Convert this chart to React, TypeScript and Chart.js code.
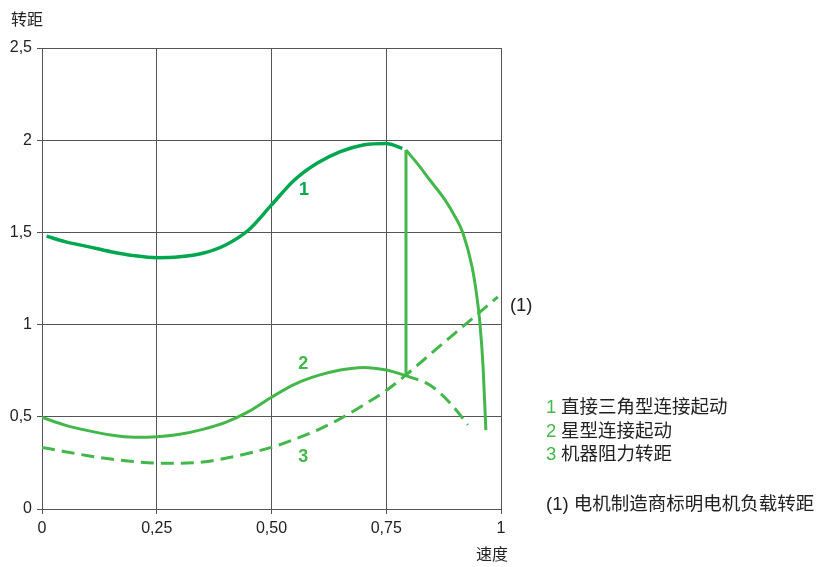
import React, { useEffect, useRef } from "react";
import { Chart, registerables } from "chart.js";

Chart.register(...registerables);

// ---- data ----
const xTickValues = [0, 0.25, 0.5, 0.75, 1];
const xTickLabels = ["0", "0,25", "0,50", "0,75", "1"];
const yTickValues = [0, 0.5, 1, 1.5, 2, 2.5];
const yTickLabels = ["0", "0,5", "1", "1,5", "2", "2,5"];

// curve 1: direct delta start (rising part)
const directSpeed = [0.01, 0.05, 0.1, 0.15, 0.2, 0.25, 0.3, 0.35, 0.4, 0.45, 0.5, 0.55, 0.6, 0.65, 0.7, 0.75, 0.785];
const directTorque = [1.48, 1.45, 1.423, 1.395, 1.374, 1.363, 1.368, 1.387, 1.432, 1.513, 1.649, 1.784, 1.876, 1.938, 1.974, 1.982, 1.956];

// curve 1 falling part after switch
const fallSpeed = [0.793, 0.82, 0.845, 0.878, 0.9, 0.917, 0.937, 0.947, 0.954, 0.961, 0.967];
const fallTorque = [1.947, 1.866, 1.784, 1.676, 1.585, 1.497, 1.312, 1.16, 1.009, 0.77, 0.428];

// switch-over vertical line
const switchSpeed = [0.793, 0.793];
const switchTorque = [1.947, 0.727];

// curve 2: star start
const starSpeed = [0, 0.05, 0.1, 0.15, 0.2, 0.25, 0.3, 0.35, 0.4, 0.45, 0.5, 0.55, 0.6, 0.65, 0.7, 0.75, 0.793];
const starTorque = [0.497, 0.455, 0.425, 0.401, 0.389, 0.392, 0.405, 0.432, 0.47, 0.528, 0.606, 0.676, 0.723, 0.754, 0.768, 0.754, 0.723];

// curve 2 dashed continuation
const starDashSpeed = [0.793, 0.845, 0.889, 0.928];
const starDashTorque = [0.723, 0.672, 0.575, 0.456];

// curve 3: machine load torque (dashed)
const loadSpeed = [0, 0.05, 0.1, 0.15, 0.2, 0.25, 0.3, 0.35, 0.4, 0.45, 0.5, 0.55, 0.6, 0.65, 0.7, 0.75, 0.793, 0.85, 0.9, 0.95, 0.993];
const loadTorque = [0.334, 0.311, 0.289, 0.271, 0.257, 0.249, 0.248, 0.255, 0.275, 0.302, 0.334, 0.378, 0.428, 0.49, 0.563, 0.643, 0.727, 0.848, 0.954, 1.059, 1.15];

const curveLabels = ["1", "2", "3", "(1)"];
const curveLabelSpeed = [0.571, 0.569, 0.569, 1.044];
const curveLabelTorque = [1.73, 0.786, 0.282, 1.1];

const legendNumbers = ["1", "2", "3"];
const legendTexts = ["直接三角型连接起动", "星型连接起动", "机器阻力转距"];
const noteText = "(1) 电机制造商标明电机负载转距";

const yTitle = "转距";
const xTitle = "速度";

const DARK = "#00a650";
const LIGHT = "#44b74a";
const TEXT = "#222222";
const GRID = "#555555";
const FONT = "'Liberation Sans', 'Noto Sans CJK SC', Arial, sans-serif";

const pts = (xs: number[], ys: number[]) => xs.map((x, i) => ({ x, y: ys[i] }));

export default function App() {
  const ref = useRef<HTMLCanvasElement | null>(null);

  useEffect(() => {
    document.body.style.margin = "0";
    const canvas = ref.current;
    if (!canvas) return;

    const textPlugin = {
      id: "textPlugin",
      afterDraw(chart: any) {
        const ctx = chart.ctx;
        const xs = chart.scales.x;
        const ys = chart.scales.y;
        ctx.save();
        ctx.textBaseline = "middle";
        ctx.textAlign = "center";
        // curve labels
        curveLabels.forEach((t, i) => {
          const px = xs.getPixelForValue(curveLabelSpeed[i]);
          const py = ys.getPixelForValue(curveLabelTorque[i]);
          if (i === 3) {
            ctx.font = `18.5px ${FONT}`;
            ctx.fillStyle = TEXT;
          } else {
            ctx.font = `bold 18px ${FONT}`;
            ctx.fillStyle = i === 0 ? DARK : LIGHT;
          }
          ctx.fillText(t, px, py);
        });
        // axis titles
        ctx.font = `16px ${FONT}`;
        ctx.fillStyle = TEXT;
        ctx.fillText(yTitle, 27, 21);
        ctx.fillText(xTitle, 492, 556);
        // legend
        ctx.textAlign = "left";
        ctx.font = `18.5px ${FONT}`;
        const rows = [408, 432, 455];
        legendNumbers.forEach((n, i) => {
          ctx.fillStyle = LIGHT;
          ctx.fillText(n, 546, rows[i]);
          ctx.fillStyle = TEXT;
          ctx.fillText(legendTexts[i], 561, rows[i]);
        });
        ctx.fillStyle = TEXT;
        ctx.fillText(noteText, 546, 505);
        ctx.restore();
      },
    };

    const common = {
      pointRadius: 0,
      pointHoverRadius: 0,
      fill: false,
      cubicInterpolationMode: "monotone" as const,
      borderCapStyle: "butt" as const,
    };

    const chart = new Chart(canvas, {
      type: "line",
      data: {
        datasets: [
          { ...common, data: pts(directSpeed, directTorque), borderColor: DARK, borderWidth: 3.5 },
          { ...common, data: pts(fallSpeed, fallTorque), borderColor: LIGHT, borderWidth: 3 },
          { ...common, data: pts(switchSpeed, switchTorque), borderColor: LIGHT, borderWidth: 3, cubicInterpolationMode: "default", tension: 0 },
          { ...common, data: pts(starSpeed, starTorque), borderColor: LIGHT, borderWidth: 3 },
          { ...common, data: pts(starDashSpeed, starDashTorque), borderColor: LIGHT, borderWidth: 3, borderDash: [13, 7] },
          { ...common, data: pts(loadSpeed, loadTorque), borderColor: LIGHT, borderWidth: 3, borderDash: [13, 7] },
        ],
      },
      options: {
        responsive: false,
        animation: false,
        events: [],
        layout: { padding: { left: 0, right: 328, top: 48, bottom: 28 } },
        plugins: { legend: { display: false }, tooltip: { enabled: false }, title: { display: false } },
        scales: {
          x: {
            type: "linear",
            min: 0,
            max: 1,
            afterBuildTicks: (s: any) => {
              s.ticks = xTickValues.map((v) => ({ value: v }));
            },
            afterFit: (s: any) => {
              s.height = 30;
            },
            ticks: {
              autoSkip: false,
              maxRotation: 0,
              padding: 5,
              color: TEXT,
              font: { family: FONT, size: 16 },
              callback: (_v: any, i: number) => xTickLabels[i],
            },
            grid: { color: GRID, lineWidth: 1, tickLength: 5, drawTicks: true },
            border: { display: true, color: GRID, width: 1 },
          },
          y: {
            type: "linear",
            min: 0,
            max: 2.5,
            afterBuildTicks: (s: any) => {
              s.ticks = yTickValues.map((v) => ({ value: v }));
            },
            afterFit: (s: any) => {
              s.width = 42;
            },
            ticks: {
              autoSkip: false,
              padding: 5,
              color: TEXT,
              font: { family: FONT, size: 16 },
              callback: (_v: any, i: number) => yTickLabels[i],
            },
            grid: { color: GRID, lineWidth: 1, tickLength: 5, drawTicks: true },
            border: { display: true, color: GRID, width: 1 },
          },
        },
      },
      plugins: [textPlugin],
    } as any);

    return () => chart.destroy();
  }, []);

  return (
    <div style={{ width: 829, height: 567, background: "#fff" }}>
      <canvas ref={ref} width={829} height={567} style={{ display: "block", width: 829, height: 567 }} />
    </div>
  );
}
